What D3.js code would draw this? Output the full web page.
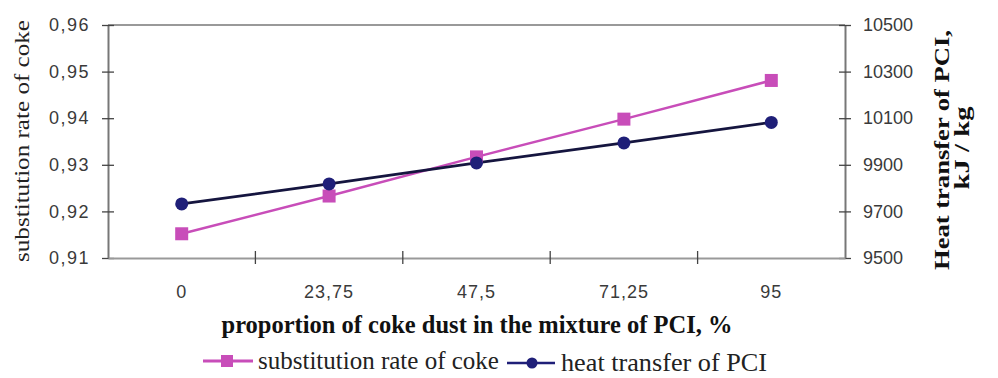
<!DOCTYPE html>
<html><head><meta charset="utf-8">
<script src="https://cdn.jsdelivr.net/npm/d3@7"></script>
<style>body{margin:0;background:#fff}svg{display:block}</style>
</head><body>
<svg id="c" width="998" height="378"></svg>
<script>
const categories = ["0", "23,75", "47,5", "71,25", "95"];
const substitutionRate = [0.9152, 0.9233, 0.9317, 0.9398, 0.9481];
const heatTransfer = [9732, 9818, 9908, 9994, 10082];
const leftTicks = [0.91, 0.92, 0.93, 0.94, 0.95, 0.96];
const rightTicks = [9500, 9700, 9900, 10100, 10300, 10500];
const seriesNames = ["substitution rate of coke", "heat transfer of PCI"];
const pink = "#C84DB9", navy = "#1F1F78";

const svg = d3.select("#c");
const L = 108, R = 845, T = 25, B = 258;
const x = d3.scaleBand().domain(categories).range([L, R]);
const yL = d3.scaleLinear().domain([0.91, 0.96]).range([B, T]);
const yR = d3.scaleLinear().domain([9500, 10500]).range([B, T]);
const fmt = d => d3.format(".2f")(d).replace(".", ",");
const SERIF = "Liberation Serif, Times New Roman, serif";
const SANS = "Liberation Sans, Arial, sans-serif";

// top border line
svg.append("line").attr("x1", L).attr("x2", R).attr("y1", T).attr("y2", T)
  .attr("stroke", "#999").attr("stroke-width", 2);

const axStyle = g => {
  g.select(".domain").attr("stroke", "#777").attr("stroke-width", 2);
  g.selectAll(".tick line").attr("stroke", "#444").attr("stroke-width", 1.3);
  g.selectAll(".tick text").attr("fill", "#3a3a3a").attr("font-family", SANS).attr("font-size", 18);
};

// left axis
const gl = svg.append("g").attr("transform", `translate(${L},0)`)
  .call(d3.axisLeft(yL).tickValues(leftTicks).tickFormat(fmt).tickSize(6).tickSizeOuter(0).tickPadding(12));
axStyle(gl);
gl.selectAll(".tick line").attr("x1", 6);
gl.selectAll(".tick text").attr("letter-spacing", 1.5);

// right axis
const gr = svg.append("g").attr("transform", `translate(${R},0)`)
  .call(d3.axisRight(yR).tickValues(rightTicks).tickFormat(d => String(d)).tickSize(6).tickSizeOuter(0).tickPadding(12));
axStyle(gr);
gr.selectAll(".tick line").attr("x1", -6);

// bottom axis: ticks at band boundaries
const gb = svg.append("g").attr("transform", `translate(0,${B})`)
  .call(d3.axisBottom(x).tickSize(0).tickSizeOuter(0).tickPadding(27));
axStyle(gb);
gb.selectAll(".tick text").attr("letter-spacing", 1);
gb.select(".domain").attr("stroke", "#999");
const bounds = categories.slice(1).map(c => x(c));
gb.selectAll(".bt").data(bounds).enter().append("line").attr("class", "bt")
  .attr("x1", d => d).attr("x2", d => d).attr("y1", -7).attr("y2", 6)
  .attr("stroke", "#444").attr("stroke-width", 1.3);

const cx = c => x(c) + x.bandwidth() / 2;

// series lines
const lineL = d3.line().x((d, i) => cx(categories[i])).y(d => yL(d));
const lineR = d3.line().x((d, i) => cx(categories[i])).y(d => yR(d));
svg.append("path").attr("d", lineL(substitutionRate)).attr("fill", "none").attr("stroke", pink).attr("stroke-width", 2.5);
svg.append("path").attr("d", lineR(heatTransfer)).attr("fill", "none").attr("stroke", "#15153f").attr("stroke-width", 2.8);

const sq = 13;
svg.selectAll(".sq").data(substitutionRate).enter().append("rect")
  .attr("x", (d, i) => cx(categories[i]) - sq / 2).attr("y", d => yL(d) - sq / 2)
  .attr("width", sq).attr("height", sq).attr("fill", pink);
svg.selectAll(".ci").data(heatTransfer).enter().append("circle")
  .attr("cx", (d, i) => cx(categories[i])).attr("cy", d => yR(d)).attr("r", 6.5).attr("fill", navy);

// axis titles
svg.append("text").attr("transform", "translate(29,141) rotate(-90)")
  .attr("text-anchor", "middle").attr("font-family", SERIF)
  .attr("font-size", 22).attr("textLength", 242).attr("lengthAdjust", "spacingAndGlyphs")
  .attr("fill", "#222").text("substitution rate of coke");
svg.append("text").attr("transform", "translate(949,150) rotate(-90)")
  .attr("text-anchor", "middle").attr("font-family", SERIF)
  .attr("font-weight", "bold").attr("font-size", 21).attr("textLength", 240).attr("lengthAdjust", "spacingAndGlyphs")
  .attr("fill", "#111").text("Heat transfer of PCI,");
svg.append("text").attr("transform", "translate(969,148) rotate(-90)")
  .attr("text-anchor", "middle").attr("font-family", SERIF)
  .attr("font-weight", "bold").attr("font-size", 21).attr("textLength", 83).attr("lengthAdjust", "spacingAndGlyphs")
  .attr("fill", "#111").text("kJ / kg");
svg.append("text").attr("x", 477).attr("y", 333)
  .attr("text-anchor", "middle").attr("font-family", SERIF)
  .attr("font-weight", "bold").attr("font-size", 24.5).attr("fill", "#111")
  .text("proportion of coke dust in the mixture of PCI, %");

// legend
const lg = svg.append("g").attr("font-family", SERIF).attr("font-size", 25).attr("fill", "#222");
lg.append("line").attr("x1", 203).attr("x2", 253).attr("y1", 361).attr("y2", 361).attr("stroke", pink).attr("stroke-width", 3);
lg.append("rect").attr("x", 221).attr("y", 355).attr("width", 12).attr("height", 12).attr("fill", pink);
lg.append("text").attr("x", 258).attr("y", 369).text(seriesNames[0]);
lg.append("line").attr("x1", 507).attr("x2", 555).attr("y1", 363).attr("y2", 363).attr("stroke", navy).attr("stroke-width", 2.5);
lg.append("circle").attr("cx", 532).attr("cy", 363).attr("r", 5.5).attr("fill", navy);
lg.append("text").attr("x", 561).attr("y", 371).attr("textLength", 206).attr("lengthAdjust", "spacingAndGlyphs").text(seriesNames[1]);
</script>
</body></html>
